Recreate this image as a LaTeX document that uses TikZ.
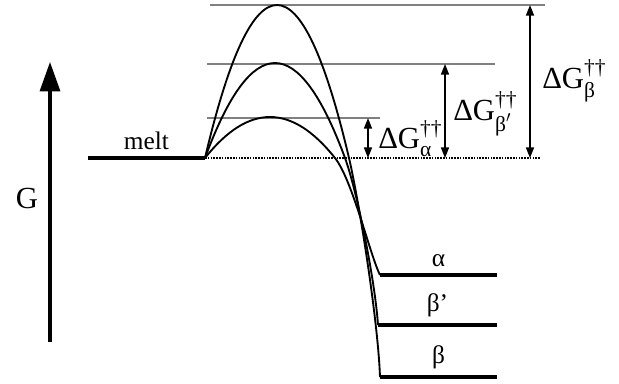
\documentclass[tikz,border=0pt]{standalone}
\usepackage{amsmath}
\usepackage{fontspec}
\setmainfont{Liberation Serif}
\usetikzlibrary{arrows.meta}

\begin{document}
\begin{tikzpicture}[x=0.75pt,y=-0.75pt,
 level/.style={black,line width=3pt},
 barrier/.style={black,line width=1.4pt},
 guide/.style={gray,line width=0.9pt},
 dots/.style={black,line width=0.8pt,dash pattern=on 1.2pt off 0.9pt},
 gap/.style={{Triangle[length=8pt,width=6pt]}-{Triangle[length=8pt,width=6pt]},black,line width=1.2pt},
 axis/.style={-{Triangle[length=22pt,width=15pt]},black,line width=2.4pt},
 tag/.style={font=\fontsize{19}{22}\selectfont},
 energy/.style={font=\fontsize{23}{26}\selectfont,anchor=base west,inner sep=0pt}]
\useasboundingbox (0,0) rectangle (619,383);
% levels and maxima
\coordinate (start) at (205,158);
\coordinate (peakA) at (270,117);
\coordinate (peakBp) at (275,63);
\coordinate (peakB) at (277,5);
\coordinate (endA) at (380,275);
\coordinate (endBp) at (378,325);
\coordinate (endB) at (380,377);
% free energy axis
\coordinate (axis0) at (50,342);
\coordinate (axis1) at (50,62);
\draw[axis] (axis0) -- (axis1);
\node[font=\fontsize{23}{26}\selectfont] (G) at (27,198) {G};
% guide lines
\draw[guide] (210,5) -- (545,5);
\draw[guide] (207,64) -- (495,64);
\draw[guide] (207,118) -- (380,118);
\draw[dots] (start) -- (540,158);
% barriers
\draw[barrier] (start) .. controls (226.7,130.7) and (248.3,117) .. (peakA)
  .. controls (291.7,117) and (313.3,130.7) .. (335,158)
  .. controls (352.4,179.8) and (370,255) .. (endA);
\draw[barrier] (start) .. controls (228.3,94.7) and (251.7,63) .. (peakBp)
  .. controls (298.3,63) and (321.7,94.7) .. (345,158)
  .. controls (356.7,189.7) and (375,280) .. (endBp);
\draw[barrier] (start) .. controls (229,56) and (253,5) .. (peakB)
  .. controls (301,5) and (325,56) .. (349,158)
  .. controls (358.6,198.8) and (378,320) .. (endB);
% phases
\draw[level] (88,158) -- node[tag,above=1pt]{melt} (start);
\draw[level] (endA) -- node[tag,above=1pt]{α} (497,275);
\draw[level] (endBp) -- node[tag,above=1pt]{β’} (497,325);
\draw[level] (endB) -- node[tag,above=1pt]{β} (497,377);
% activation energies
\draw[gap] (368,118) -- (368,158);
\draw[gap] (445,64) -- (445,158);
\draw[gap] (530,5) -- (530,158);
\node[energy] (dGa) at (378,148) {ΔG$^{\text{††}}_{\text{α}}$};
\node[energy] (dGbp) at (453,120) {ΔG$^{\text{††}}_{\text{β}'}$};
\node[energy] (dGb) at (542,88) {ΔG$^{\text{††}}_{\text{β}}$};
\end{tikzpicture}
\end{document}
